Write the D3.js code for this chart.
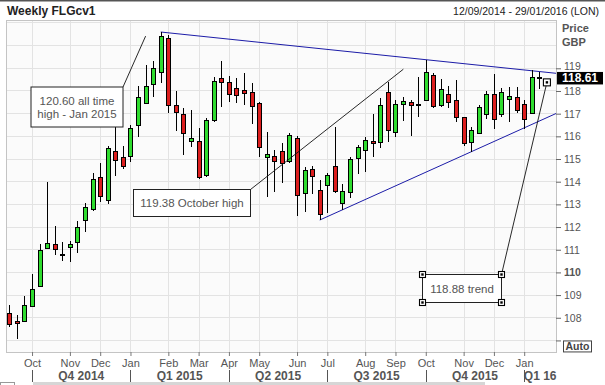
<!DOCTYPE html>
<html>
<head>
<meta charset="utf-8">
<script src="https://cdn.jsdelivr.net/npm/d3@7"></script>
<style>
  body { margin: 0; background: #fff; }
  svg text { font-family: "Liberation Sans", Arial, sans-serif; }
</style>
</head>
<body>
<div id="chart"></div>
<script>
// weekly candles (GBP)
var opens = [108.19, 107.85, 107.87, 108.51, 109.43, 111.07, 111.24, 110.81, 111.12, 111.31,
  112.28, 112.78, 114.19, 113.19, 115.37, 115.10, 115.10, 116.50, 117.50, 118.31,
  118.82, 120.32, 117.39, 116.97, 115.76, 115.79, 114.29, 116.72, 118.56, 118.38,
  118.14, 118.04, 117.97, 117.48, 115.07, 115.13, 115.35, 114.92, 115.94, 113.51,
  114.54, 113.63, 113.85, 114.69, 113.09, 113.56, 115.03, 115.40, 115.79, 115.74,
  117.97, 116.18, 117.43, 117.53, 117.44, 117.60, 118.70, 117.38, 117.87, 117.60,
  116.84, 115.76, 116.13, 116.98, 117.87, 117.01, 117.66, 117.72, 117.41, 117.01, 118.59];
var highs = [108.56, 108.12, 108.96, 109.93, 111.25, 113.97, 112.04, 111.35, 111.40, 112.28,
  113.07, 114.39, 114.81, 115.57, 116.54, 115.57, 116.50, 118.22, 119.15, 119.34,
  120.60, 120.47, 118.00, 117.24, 117.16, 116.35, 116.79, 118.63, 119.32, 118.66,
  118.56, 118.81, 118.36, 117.53, 116.18, 115.40, 115.72, 116.16, 116.01, 114.66,
  114.69, 114.07, 114.39, 116.42, 113.90, 115.10, 115.62, 115.98, 116.98, 117.68,
  118.41, 117.60, 117.72, 117.60, 118.60, 119.38, 118.78, 118.51, 118.22, 118.48,
  116.87, 116.42, 117.38, 118.01, 118.75, 118.12, 118.19, 118.19, 117.60, 118.92, 118.85];
var lows = [107.59, 107.05, 107.82, 108.46, 109.37, 111.02, 110.78, 110.51, 110.44, 110.84,
  111.79, 112.72, 113.12, 113.00, 114.26, 114.56, 114.88, 115.96, 117.46, 117.72,
  118.36, 117.04, 116.25, 115.18, 115.52, 114.10, 114.22, 116.64, 117.31, 117.53,
  117.46, 117.38, 116.53, 115.07, 113.34, 113.56, 113.95, 114.84, 112.50, 112.67,
  113.46, 112.31, 112.63, 113.49, 112.75, 113.27, 114.32, 114.44, 115.10, 115.47,
  115.76, 115.96, 116.69, 116.01, 116.86, 117.56, 117.24, 117.28, 117.24, 116.64,
  115.59, 115.32, 116.09, 116.76, 116.32, 116.86, 116.64, 117.01, 116.31, 116.98, 118.09];
var closes = [107.72, 107.75, 108.56, 109.25, 111.00, 111.28, 111.02, 110.80, 111.24, 111.99,
  112.87, 114.10, 113.37, 115.47, 114.99, 114.72, 116.35, 117.75, 118.23, 119.00,
  120.42, 117.38, 117.06, 116.13, 115.91, 114.19, 116.72, 118.45, 118.38, 117.87,
  117.82, 117.92, 117.37, 115.52, 115.21, 114.92, 114.81, 116.06, 113.44, 114.51,
  114.22, 112.56, 114.29, 113.60, 113.60, 115.00, 115.52, 115.84, 115.69, 117.38,
  116.31, 117.43, 117.56, 117.41, 117.42, 118.82, 117.34, 118.07, 117.50, 116.84,
  115.69, 116.28, 117.28, 117.87, 116.76, 117.97, 117.78, 117.13, 116.75, 118.60, 118.61];

// one candle per week, Friday close
var weeks = d3.timeFriday.range(new Date(2014, 8, 12), new Date(2016, 0, 16));
var quarterLabels = ["Q4 2014", "Q1 2015", "Q2 2015", "Q3 2015", "Q4 2015", "Q1 16"];
var priceTicks = [108, 109, 110, 111, 112, 113, 114, 115, 116, 117, 118, 119];
var lastPrice = 118.61;

// trend lines: two touch points each (week index, price)
var upperTrend = [[20, 120.60], [55, 119.38]];
var lowerTrend = [[41, 112.31], [61, 115.32]];

var svgWidth = 605;
var svgHeight = 385;
var plot = { left: 6, top: 20, right: 556, bottom: 352 };

var svg = d3.select("#chart")
  .append("svg")
  .attr("width", svgWidth)
  .attr("height", svgHeight);

// scales
var x = d3.scaleLinear()
  .domain([-0.44, 72.2])
  .range([plot.left, plot.right]);

var y = d3.scaleLinear()
  .domain([106.49, 121.13])
  .range([plot.bottom, plot.top]);

var candles = weeks.map(function(d, i) {
  return { date: d, i: i, open: opens[i], high: highs[i], low: lows[i], close: closes[i] };
});

// first candle of each month -> month ticks
var monthIdx = candles.filter(function(c, i) {
  return i > 0 && c.date.getMonth() !== candles[i - 1].date.getMonth();
}).map(function(c) { return c.i; });
var quarterIdx = monthIdx.filter(function(i) { return weeks[i].getMonth() % 3 === 0; });

// top rule
svg.append("rect").attr("x", 0).attr("y", 0).attr("width", svgWidth).attr("height", 1.5).attr("fill", "#555");

// titles
svg.append("text")
  .attr("x", 7).attr("y", 15)
  .attr("font-size", "12px").attr("font-weight", "bold").attr("fill", "#222")
  .text("Weekly FLGcv1");

svg.append("text")
  .attr("x", 599).attr("y", 15)
  .attr("text-anchor", "end")
  .attr("font-size", "10.5px").attr("fill", "#222")
  .text("12/09/2014 - 29/01/2016 (LON)");

svg.append("text").attr("x", 562).attr("y", 32)
  .attr("font-size", "11px").attr("font-weight", "bold").attr("fill", "#555").text("Price");
svg.append("text").attr("x", 562).attr("y", 46)
  .attr("font-size", "11px").attr("font-weight", "bold").attr("fill", "#555").text("GBP");

// plot background
svg.append("rect")
  .attr("x", plot.left).attr("y", plot.top)
  .attr("width", plot.right - plot.left).attr("height", plot.bottom - plot.top)
  .attr("fill", "#fbfbfb");

svg.append("clipPath").attr("id", "plotClip")
  .append("rect")
  .attr("x", plot.left).attr("y", plot.top)
  .attr("width", plot.right - plot.left).attr("height", plot.bottom - plot.top);

// grid
var grid = svg.append("g").attr("stroke", "#e3e3e3").attr("shape-rendering", "crispEdges");
grid.selectAll(".hg")
  .data(d3.range(107, 122))
  .enter().append("line")
  .attr("x1", plot.left).attr("x2", plot.right)
  .attr("y1", d => y(d)).attr("y2", d => y(d));
grid.selectAll(".vg")
  .data(monthIdx)
  .enter().append("line")
  .attr("x1", d => Math.round(x(d)) + 0.5).attr("x2", d => Math.round(x(d)) + 0.5)
  .attr("y1", plot.top).attr("y2", plot.bottom);

// frame
svg.append("rect")
  .attr("x", plot.left + 0.5).attr("y", plot.top + 0.5)
  .attr("width", plot.right - plot.left).attr("height", plot.bottom - plot.top)
  .attr("fill", "none").attr("stroke", "#c4c4c4");

var chartGroup = svg.append("g").attr("clip-path", "url(#plotClip)");

// trend lines, extended to the right edge
function trendPath(pts) {
  var slope = (pts[1][1] - pts[0][1]) / (pts[1][0] - pts[0][0]);
  var endI = x.domain()[1];
  return [[x(pts[0][0]), y(pts[0][1])], [x(endI), y(pts[1][1] + slope * (endI - pts[1][0]))]];
}
chartGroup.selectAll(".trend")
  .data([upperTrend, lowerTrend])
  .enter().append("path")
  .attr("d", d => d3.line()(trendPath(d)))
  .attr("fill", "none")
  .attr("stroke", "#1c1ca8")
  .attr("stroke-width", 1);

// candles
var candleGroup = chartGroup.selectAll(".candle")
  .data(candles)
  .enter().append("g");

candleGroup.append("line")
  .attr("x1", d => Math.round(x(d.i)) + 0.5)
  .attr("x2", d => Math.round(x(d.i)) + 0.5)
  .attr("y1", d => y(d.high))
  .attr("y2", d => y(d.low))
  .attr("stroke", "#000")
  .attr("shape-rendering", "crispEdges");

candleGroup.append("rect")
  .attr("x", d => Math.round(x(d.i)) - 1.5)
  .attr("y", d => Math.round(y(Math.max(d.open, d.close))) + 0.5)
  .attr("width", 4)
  .attr("height", d => Math.max(1, Math.round(Math.abs(y(d.open) - y(d.close)))))
  .attr("fill", d => d.close >= d.open ? "#2fdc2f" : "#dc1e1e")
  .attr("stroke", "#000")
  .attr("stroke-width", 1);

// price axis
var rightAxis = d3.axisRight(y)
  .tickValues(priceTicks.concat([107]))
  .tickSize(5)
  .tickPadding(3)
  .tickFormat(d => d === 107 ? "" : d);

var ra = svg.append("g")
  .attr("transform", `translate(${plot.right}, 0)`)
  .call(rightAxis);
ra.select(".domain").remove();
ra.selectAll("line").attr("stroke", "#666");
ra.selectAll("text")
  .attr("font-size", "10.5px")
  .attr("fill", "#555")
  .attr("font-family", "Liberation Sans, Arial, sans-serif")
  .attr("font-weight", d => d === 110 ? "bold" : "normal");
// 119 sits just above the price tag
ra.selectAll("text").filter(d => d === 119).attr("dy", "0.15em");

// last price tag
svg.append("rect")
  .attr("x", 557).attr("y", y(lastPrice) - 5.2)
  .attr("width", 46).attr("height", 12.5)
  .attr("fill", "#000");
svg.append("text")
  .attr("x", 580).attr("y", y(lastPrice) + 5.2)
  .attr("text-anchor", "middle")
  .attr("font-size", "12px").attr("font-weight", "bold").attr("fill", "#fff")
  .text(lastPrice.toFixed(2));

// Auto button
svg.append("rect")
  .attr("x", 563.5).attr("y", y(107) + 0.5)
  .attr("width", 28).attr("height", 11)
  .attr("fill", "#fff").attr("stroke", "#444");
svg.append("text")
  .attr("x", 577.5).attr("y", y(107) + 9.5)
  .attr("text-anchor", "middle")
  .attr("font-size", "10.5px").attr("font-weight", "bold").attr("fill", "#444")
  .text("Auto");

// month axis
var bottomAxis = d3.axisBottom(x)
  .tickValues(monthIdx)
  .tickSize(4)
  .tickFormat(i => d3.timeFormat("%b")(weeks[i]));

var ba = svg.append("g")
  .attr("transform", `translate(0, ${plot.bottom})`)
  .call(bottomAxis);
ba.select(".domain").remove();
ba.selectAll("line").attr("stroke", "#777");
ba.selectAll("text")
  .attr("font-size", "11px")
  .attr("fill", "#555")
  .attr("font-family", "Liberation Sans, Arial, sans-serif");

// quarters
svg.selectAll(".qsep")
  .data(quarterIdx)
  .enter().append("line")
  .attr("x1", d => Math.round(x(d)) + 0.5).attr("x2", d => Math.round(x(d)) + 0.5)
  .attr("y1", 370).attr("y2", 382)
  .attr("stroke", "#555");

svg.selectAll(".qlab")
  .data(quarterLabels)
  .enter().append("text")
  .attr("x", function(d, k) {
    var a = x(quarterIdx[k]);
    return k < quarterIdx.length - 1 ? (a + x(quarterIdx[k + 1])) / 2 : a + 16;
  })
  .attr("y", 380)
  .attr("text-anchor", "middle")
  .attr("font-size", "12px").attr("font-weight", "bold").attr("fill", "#555")
  .text(d => d);

// scroll bar strip
svg.append("rect").attr("x", 33).attr("y", 382).attr("width", 452).attr("height", 3).attr("fill", "#d6d6d6");
svg.append("rect").attr("x", 0.5).attr("y", 382.5).attr("width", 14).attr("height", 4)
  .attr("fill", "none").attr("stroke", "#999");

// annotations: text boxes with pointer lines to a chart point (week index, price)
var notes = [
  { lines: ["120.60 all time", "high - Jan 2015"], box: [31, 87, 92, 40], from: [123, 87], tip: [18, 120.42], handles: false },
  { lines: ["119.38 October high"], box: [133.5, 189.5, 117, 27], from: [250.5, 189.5], tip: [52.04, 118.96], handles: false },
  { lines: ["118.88 trend"], box: [422.5, 274.5, 79, 28], from: [501.5, 274.5], tip: [71, 118.38], handles: true }
];

var noteGroup = svg.append("g");
notes.forEach(function(n) {
  noteGroup.append("line")
    .attr("x1", n.from[0]).attr("y1", n.from[1])
    .attr("x2", x(n.tip[0])).attr("y2", y(n.tip[1]))
    .attr("stroke", "#111").attr("stroke-width", 0.9);

  noteGroup.append("rect")
    .attr("x", n.box[0]).attr("y", n.box[1])
    .attr("width", n.box[2]).attr("height", n.box[3])
    .attr("fill", "#fff").attr("stroke", "#222");

  var cx = n.box[0] + n.box[2] / 2;
  var first = n.box[1] + n.box[3] / 2 + 4 - (n.lines.length - 1) * 6.5;
  n.lines.forEach(function(t, k) {
    noteGroup.append("text")
      .attr("x", cx).attr("y", first + k * 13.5)
      .attr("text-anchor", "middle")
      .attr("font-size", "11.5px").attr("fill", "#555")
      .text(t);
  });

  if (n.handles) {
    var pts = [[n.box[0], n.box[1]], [n.box[0] + n.box[2], n.box[1]],
      [n.box[0], n.box[1] + n.box[3]], [n.box[0] + n.box[2], n.box[1] + n.box[3]],
      [x(n.tip[0]), y(n.tip[1])]];
    pts.forEach(function(p, k) {
      var s = k === 4 ? 7 : 6;
      noteGroup.append("rect")
        .attr("x", p[0] - s / 2).attr("y", p[1] - s / 2)
        .attr("width", s).attr("height", s)
        .attr("fill", "#fff").attr("stroke", "#000").attr("stroke-width", 1.1);
      noteGroup.append("rect")
        .attr("x", p[0] - 1.2).attr("y", p[1] - 1.2)
        .attr("width", 2.4).attr("height", 2.4)
        .attr("fill", "#000");
    });
  }
});
</script>
</body>
</html>
